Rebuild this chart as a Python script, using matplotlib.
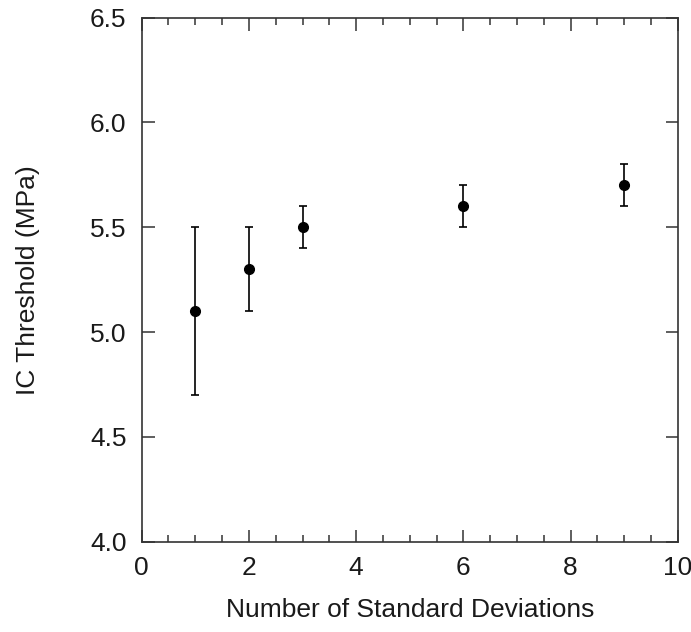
import numpy as np
import matplotlib.pyplot as plt
from matplotlib.ticker import MultipleLocator

# data
n_std = [1, 2, 3, 6, 9]
threshold = [5.1, 5.3, 5.5, 5.6, 5.7]
err = [0.4, 0.2, 0.1, 0.1, 0.1]

plt.rcParams['font.family'] = ['Liberation Sans', 'DejaVu Sans']

fig = plt.figure(figsize=(6.91, 6.32), dpi=100)
ax = fig.add_axes([0.205, 0.143, 0.776, 0.829])

ax.errorbar(n_std, threshold, yerr=err, fmt='o', color='black',
            markersize=7, capsize=3, elinewidth=1.2, capthick=1.2)

ax.set_xlim(0, 10)
ax.set_ylim(4.0, 6.5)
ax.xaxis.set_major_locator(MultipleLocator(2))
ax.xaxis.set_minor_locator(MultipleLocator(0.5))
ax.yaxis.set_major_locator(MultipleLocator(0.5))
ax.yaxis.set_major_formatter(plt.FormatStrFormatter('%.1f'))

ax.tick_params(which='both', direction='in', top=True, right=True,
               labelsize=19, width=1.1, color='#333333', labelcolor='#1a1a1a')
ax.tick_params(which='major', length=9)
ax.tick_params(which='minor', length=5)
ax.tick_params(axis='x', which='major', pad=10)
ax.tick_params(axis='y', which='major', pad=11)
ax.tick_params(axis='y', which='minor', left=False, right=False)
for sp in ax.spines.values():
    sp.set_linewidth(1.2)
    sp.set_color('#333333')

ax.set_xlabel('Number of Standard Deviations', fontsize=19, labelpad=13, color='#1a1a1a')
ax.set_ylabel('IC Threshold (MPa)', fontsize=19, labelpad=36, color='#1a1a1a')

fig.savefig('out.png')
